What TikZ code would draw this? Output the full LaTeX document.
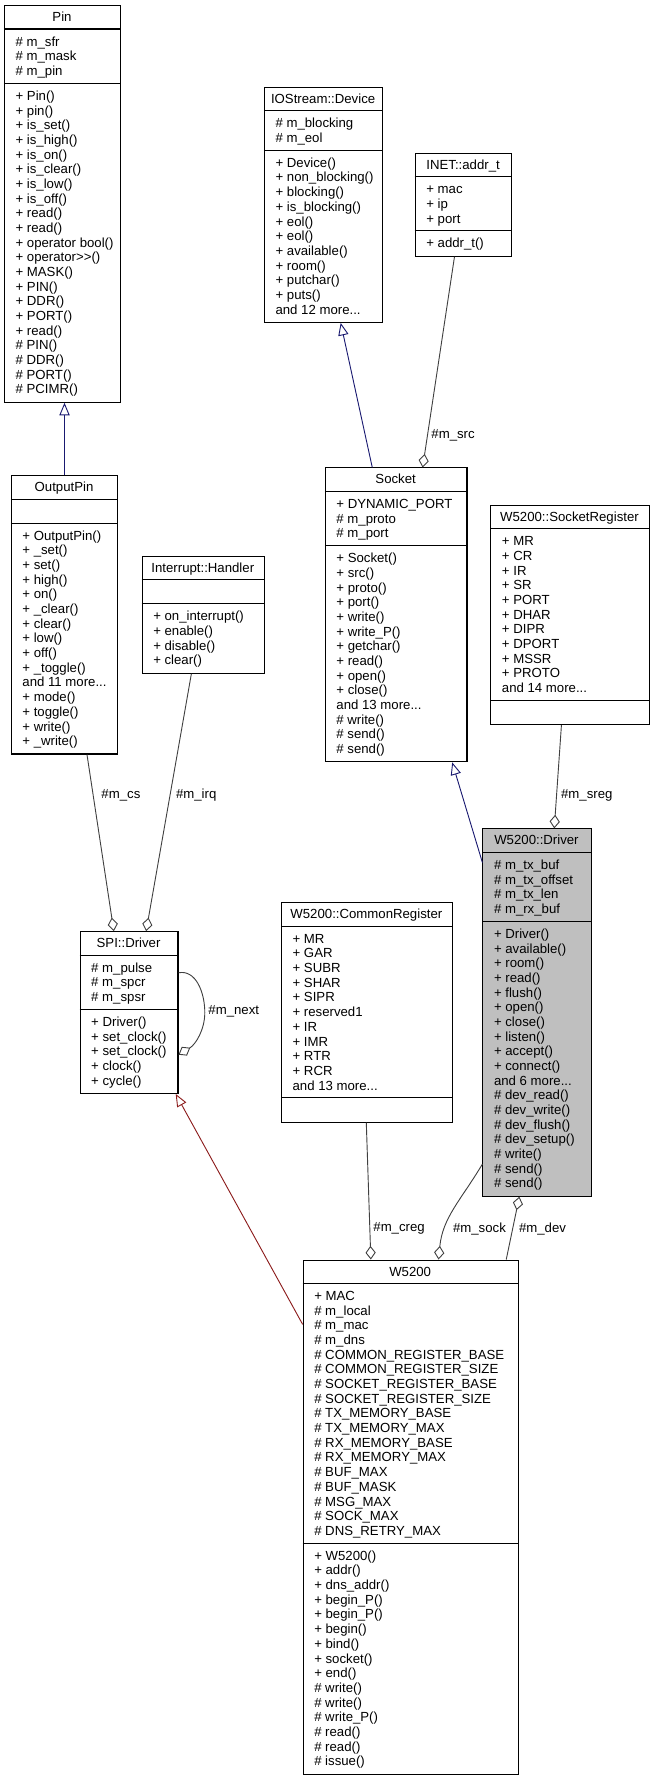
\documentclass[tikz,border=0pt]{standalone}
\usepackage{fontspec}
\setmainfont{Liberation Sans}
\usetikzlibrary{arrows.meta,calc}
\definecolor{inhblue}{RGB}{25,25,112}
\definecolor{privred}{RGB}{139,26,26}
\definecolor{usegray}{RGB}{64,64,64}
\definecolor{drvgray}{RGB}{191,191,191}
\def\classfill{white}
\def\tdots{.\kern0pt.\kern0pt.}
\tikzset{
  classbox/.style={draw=black, line width=0.9pt, fill=\classfill, inner sep=0pt},
  sepline/.style={draw=black, line width=0.9pt},
  txt/.style={inner sep=0pt, font=\fontsize{11.6}{13}\selectfont},
  lbl/.style={inner sep=0pt, font=\fontsize{11.6}{13}\selectfont, anchor=west},
  inh/.style={draw=inhblue, line width=0.8pt, -{Triangle[open, length=11pt, width=9pt]}},
  privinh/.style={draw=privred, line width=0.8pt, -{Triangle[open, length=11pt, width=9pt]}},
  comp/.style={draw=usegray, line width=0.8pt, -{Diamond[open, length=12pt, width=9pt]}}
}
\newcommand\umlclass[9]{%
  \pgfmathsetmacro\hA{(#6==0) ? 21 : (#6*12.9+9)}%
  \pgfmathsetmacro\hM{(#8==0) ? 21 : (#8*12.9+9)}%
  \pgfmathsetmacro\hTot{21+\hA+\hM}%
  \pgfmathsetmacro\yA{#3+21}%
  \pgfmathsetmacro\yM{#3+21+\hA}%
  \node[classbox, minimum width=#4pt, minimum height=\hTot pt, anchor=north west] (#1) at (#2,#3) {};
  \draw[sepline] (#2,\yA) -- ++(#4,0);
  \draw[sepline] (#2,\yM) -- ++(#4,0);
  \node[txt, anchor=base] (#1-title) at ({#2+#4/2},{#3+14.5}) {#5};
  \ifnum#6>0
    \foreach \itm [count=\i] in {#7} {\node[txt, anchor=base west] (#1-a\i) at ({#2+10},{\yA+2.15+\i*12.9}) {\itm};}
  \fi
  \ifnum#8>0
    \foreach \itm [count=\i] in {#9} {\node[txt, anchor=base west] (#1-m\i) at ({#2+10},{\yM+2.15+\i*12.9}) {\itm};}
  \fi
}
\begin{document}
\begin{tikzpicture}[x=1pt,y=-1pt]
\useasboundingbox (0,0) rectangle (578,1568);

\umlclass{pin}{3.5}{4.5}{102}{Pin}{3}{\# m\_sfr,\# m\_mask,\# m\_pin}{21}{+ Pin(),+ pin(),+ is\_set(),+ is\_high(),+ is\_on(),+ is\_clear(),+ is\_low(),+ is\_off(),+ read(),+ read(),+ operator bool(),+ operator>{}>(),+ MASK(),+ PIN(),+ DDR(),+ PORT(),+ read(),\# PIN(),\# DDR(),\# PORT(),\# PCIMR()}

\umlclass{dev}{232}{76.2}{104}{IOStream::Device}{2}{\# m\_blocking,\# m\_eol}{11}{+ Device(),+ non\_blocking(),+ blocking(),+ is\_blocking(),+ eol(),+ eol(),+ available(),+ room(),+ putchar(),+ puts(),and 12 more\tdots}

\umlclass{addr}{364.5}{134.2}{85}{INET::addr\_t}{3}{+ mac,+ ip,+ port}{1}{+ addr\_t()}

\umlclass{opin}{9.5}{417.75}{93.5}{OutputPin}{0}{}{15}{+ OutputPin(),+ \_set(),+ set(),+ high(),+ on(),+ \_clear(),+ clear(),+ low(),+ off(),+ \_toggle(),and 11 more\tdots,+ mode(),+ toggle(),+ write(),+ \_write()}

\umlclass{irq}{124.5}{488.7}{107.5}{Interrupt::Handler}{0}{}{4}{+ on\_interrupt(),+ enable(),+ disable(),+ clear()}

\umlclass{sock}{285.5}{410.85}{124.5}{Socket}{3}{+ DYNAMIC\_PORT,\# m\_proto,\# m\_port}{14}{+ Socket(),+ src(),+ proto(),+ port(),+ write(),+ write\_P(),+ getchar(),+ read(),+ open(),+ close(),and 13 more\tdots,\# write(),\# send(),\# send()}

\umlclass{sreg}{431}{443.55}{139}{W5200::SocketRegister}{11}{+ MR,+ CR,+ IR,+ SR,+ PORT,+ DHAR,+ DIPR,+ DPORT,+ MSSR,+ PROTO,and 14 more\tdots}{0}{}

{\def\classfill{drvgray}%
\umlclass{drv}{424}{728.1}{95}{W5200::Driver}{4}{\# m\_tx\_buf,\# m\_tx\_offset,\# m\_tx\_len,\# m\_rx\_buf}{18}{+ Driver(),+ available(),+ room(),+ read(),+ flush(),+ open(),+ close(),+ listen(),+ accept(),+ connect(),and 6 more\tdots,\# dev\_read(),\# dev\_write(),\# dev\_flush(),\# dev\_setup(),\# write(),\# send(),\# send()}}

\umlclass{spi}{70}{818.4}{86}{SPI::Driver}{3}{\# m\_pulse,\# m\_spcr,\# m\_spsr}{5}{+ Driver(),+ set\_clock(),+ set\_clock(),+ clock(),+ cycle()}

\umlclass{creg}{247}{793}{150}{W5200::CommonRegister}{11}{+ MR,+ GAR,+ SUBR,+ SHAR,+ SIPR,+ reserved1,+ IR,+ IMR,+ RTR,+ RCR,and 13 more\tdots}{0}{}

\umlclass{w}{266}{1107}{189}{W5200}{17}{+ MAC,\# m\_local,\# m\_mac,\# m\_dns,\# COMMON\_REGISTER\_BASE,\# COMMON\_REGISTER\_SIZE,\# SOCKET\_REGISTER\_BASE,\# SOCKET\_REGISTER\_SIZE,\# TX\_MEMORY\_BASE,\# TX\_MEMORY\_MAX,\# RX\_MEMORY\_BASE,\# RX\_MEMORY\_MAX,\# BUF\_MAX,\# BUF\_MASK,\# MSG\_MAX,\# SOCK\_MAX,\# DNS\_RETRY\_MAX}{15}{+ W5200(),+ addr(),+ dns\_addr(),+ begin\_P(),+ begin\_P(),+ begin(),+ bind(),+ socket(),+ end(),\# write(),\# write(),\# write\_P(),\# read(),\# read(),\# issue()}

% inheritance
\draw[inh] (opin.north) -- (opin.north |- pin.south);
\draw[inh] ([xshift=-21pt]sock.north) -- ([xshift=15pt]dev.south);
\draw[inh] ([yshift=-30pt]drv.north west) -- ([xshift=49.25pt]sock.south);
\draw[privinh] ([yshift=-57pt]w.north west) -- ([xshift=41pt]spi.south);

% compositions
\draw[comp] ([xshift=-8pt]addr.south) -- ([xshift=23.25pt]sock.north);
\node[lbl] (l-src) at (379,383) {\#m\_src};
\draw[comp] ([xshift=-7.5pt]sreg.south) -- ([xshift=15.2pt]drv.north);
\node[lbl] (l-sreg) at (493,699) {\#m\_sreg};
\draw[comp] ([xshift=19.75pt]opin.south) -- ([xshift=-13.4pt]spi.north);
\node[lbl] (l-cs) at (89,699) {\#m\_cs};
\draw[comp] ([xshift=-10.5pt]irq.south) -- ([xshift=15pt]spi.north);
\node[lbl] (l-irq) at (154.5,699) {\#m\_irq};
\draw[comp] ([yshift=-36.6pt]spi.north east) .. controls (172,852) and (180,872) .. (180,890) .. controls (180,905) and (172,918) .. ([yshift=-108.6pt]spi.north east);
\node[lbl] (l-next) at (183,889) {\#m\_next};
\draw[comp] ([xshift=-0.5pt]creg.south) -- ([xshift=-35pt]w.north);
\node[lbl] (l-creg) at (328,1080) {\#m\_creg};
\draw[comp] ([yshift=-295pt]drv.north west) .. controls (405,1055) and (389,1070) .. ([xshift=24.5pt]w.north);
\node[lbl] (l-sock) at (398,1080) {\#m\_sock};
\draw[comp] ([xshift=84pt]w.north) -- ([xshift=-15.5pt]drv.south);
\node[lbl] (l-dev) at (456,1080) {\#m\_dev};
\end{tikzpicture}
\end{document}
